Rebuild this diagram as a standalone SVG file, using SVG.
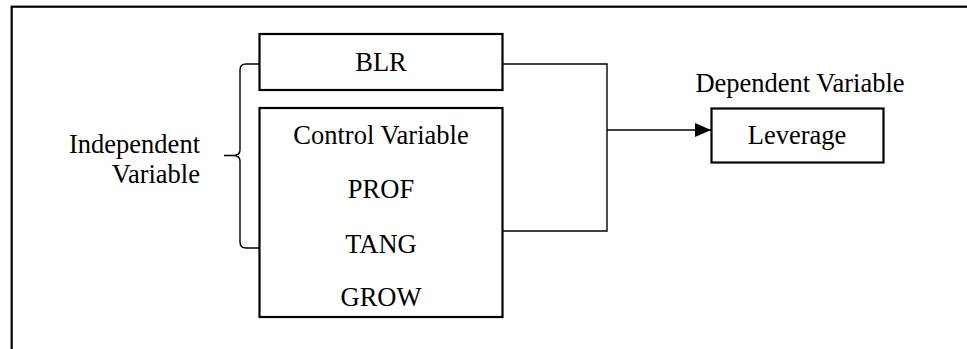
<svg xmlns="http://www.w3.org/2000/svg" width="967" height="349" viewBox="0 0 967 349">
<defs>
<style>
.box{fill:#fff;stroke:#000;stroke-width:2.2}
.ln{fill:none;stroke:#000;stroke-width:1.4}
text{font-family:"Liberation Serif","Times New Roman",serif;font-size:26.5px;fill:#000}
.c{text-anchor:middle}
</style>
<marker id="arr" markerWidth="16" markerHeight="14" refX="16" refY="7" orient="auto" markerUnits="userSpaceOnUse">
<path d="M0,0 L16,7 L0,14 Z" fill="#000"/>
</marker>
</defs>
<rect width="967" height="349" fill="#fff"/>
<rect id="frame" x="11.7" y="6.7" width="1000" height="400" fill="none" stroke="#000" stroke-width="2.2"/>
<g id="connectors">
<path class="ln" d="M259,64 L246,64 Q240,64 240,70 L240,150 Q240,155.5 233,155.5 L224,155.5 L233,155.5 Q240,155.5 240,161 L240,242 Q240,248 246,248 L259,248"/>
<path class="ln" d="M503,64 L607,64 L607,231 L503,231"/>
<path class="ln" d="M607,130 L711,130" marker-end="url(#arr)"/>
</g>
<g id="label-independent">
<text x="200" y="153" text-anchor="end">Independent</text>
<text x="200" y="183" text-anchor="end">Variable</text>
</g>
<g id="node-blr">
<rect class="box" x="259.5" y="34" width="243" height="56"/>
<text class="c" x="381" y="71">BLR</text>
</g>
<g id="node-control">
<rect class="box" x="259.5" y="108" width="243" height="209"/>
<text class="c" x="381" y="144">Control Variable</text>
<text class="c" x="381" y="198">PROF</text>
<text class="c" x="381" y="252.5">TANG</text>
<text class="c" x="381" y="306">GROW</text>
</g>
<g id="label-dependent">
<text class="c" x="800" y="92">Dependent Variable</text>
</g>
<g id="node-leverage">
<rect class="box" x="711.5" y="108.5" width="172" height="54"/>
<text class="c" x="797" y="144">Leverage</text>
</g>
</svg>
